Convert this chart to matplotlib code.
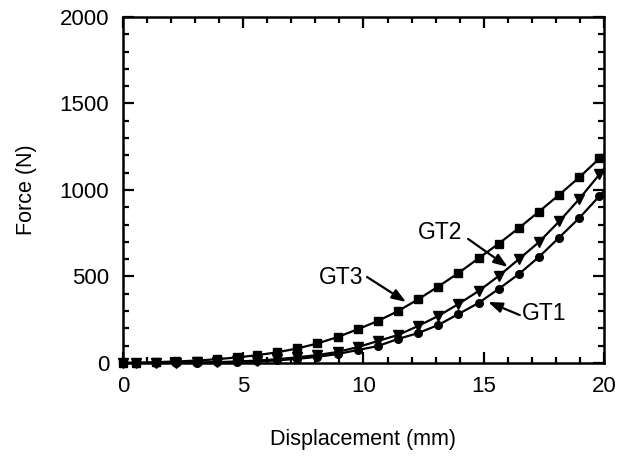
import numpy as np
import matplotlib
matplotlib.use("Agg")
import matplotlib.pyplot as plt
from matplotlib.ticker import MultipleLocator

plt.rcParams["font.family"] = ["Liberation Sans", "DejaVu Sans"]

# sampled displacement (mm): origin, then an even grid of 24 samples
disp = [0.0] + list(np.round(np.linspace(0.55, 19.81, 24), 3))

# force (N) for the three specimens, starting at the origin
gt1 = [0, 0, 0.2, 0.8, 1.5, 3, 5, 9, 15, 24, 36, 52, 75, 98, 139, 173, 220,
       283, 347, 428, 514, 613, 725, 838, 965]
gt2 = [0, 0, 0.5, 1.5, 3, 5, 9, 14, 22, 33, 46, 64, 92, 127, 162, 214, 272,
       341, 416, 503, 600, 699, 818, 948, 1090]
gt3 = [0, 2, 5, 9, 14, 22, 32, 45, 62, 84, 113, 150, 195, 243, 300, 368,
       442, 520, 605, 690, 780, 875, 972, 1073, 1182]

series = [
    ("GT1", gt1, "o", 5.5),
    ("GT2", gt2, "v", 7),
    ("GT3", gt3, "s", 6),
]

fig = plt.figure(figsize=(6.21, 4.58), dpi=100)
ax = fig.add_axes([0.198, 0.2074, 0.7746, 0.7556])

for name, force, mk, ms in series:
    x = np.array(disp, dtype=float)
    y = np.array(force, dtype=float)
    # carry the curve on to the right edge along its last slope
    slope = (y[-1] - y[-2]) / (x[-1] - x[-2])
    xl = np.append(x, 20.0)
    yl = np.append(y, y[-1] + slope * (20.0 - x[-1]))
    ax.plot(xl, yl, color="black", lw=1.6, zorder=2)
    ax.plot(x, y, ls="none", marker=mk, ms=ms, color="black", zorder=3,
            clip_on=False)

ax.set_xlim(0, 20)
ax.set_ylim(0, 2000)
ax.xaxis.set_major_locator(MultipleLocator(5))
ax.xaxis.set_minor_locator(MultipleLocator(1))
ax.yaxis.set_major_locator(MultipleLocator(500))
ax.yaxis.set_minor_locator(MultipleLocator(100))
ax.tick_params(which="both", direction="in", top=True, right=True,
               width=1.6, labelsize=16, colors="black")
ax.tick_params(axis="x", which="major", length=8, pad=9)
ax.tick_params(axis="y", which="major", length=8, pad=10)
ax.tick_params(which="minor", length=4.5)
for sp in ax.spines.values():
    sp.set_linewidth(1.8)

ax.set_xlabel("Displacement (mm)", fontsize=15.5, labelpad=23.5)
ax.set_ylabel("Force (N)", fontsize=15.5, labelpad=16)

arrow = dict(arrowstyle="-|>,head_length=0.6,head_width=0.22", color="black",
             lw=1.6, mutation_scale=14, shrinkA=0, shrinkB=0)
ax.annotate("", xy=(11.77, 353), xytext=(10.15, 497), arrowprops=arrow)
ax.text(9.06, 497, "GT3", fontsize=16.5, ha="center", va="center")
ax.annotate("", xy=(16.0, 555), xytext=(14.35, 717), arrowprops=arrow)
ax.text(13.18, 757, "GT2", fontsize=16.5, ha="center", va="center")
ax.annotate("", xy=(15.18, 353), xytext=(16.5, 277), arrowprops=arrow)
ax.text(17.5, 289, "GT1", fontsize=16.5, ha="center", va="center")

fig.savefig("out.png", dpi=100)
